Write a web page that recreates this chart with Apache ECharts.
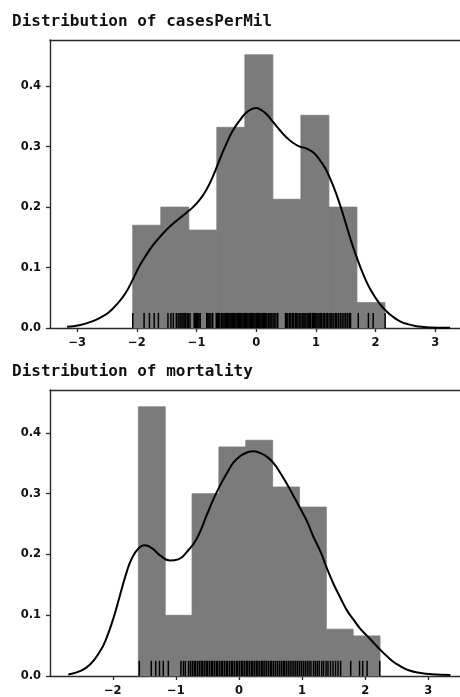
<!DOCTYPE html>
<html>
<head>
<meta charset="utf-8">
<script src="https://cdn.jsdelivr.net/npm/echarts@6/dist/echarts.min.js"></script>
<style>
html,body{margin:0;padding:0;background:#fff;}
#chart{width:460px;height:697px;}
</style>
</head>
<body>
<div id="chart"></div>
<script>
// ---------- Panel 1: casesPerMil ----------
const casesTitle = "Distribution of casesPerMil";
const casesBinStart = -2.07;
const casesBinWidth = 0.4697;
const casesHist = [0.170, 0.200, 0.162, 0.332, 0.452, 0.213, 0.352, 0.200, 0.042];
const casesKdeX = [-3.17, -2.95, -2.75, -2.6, -2.47, -2.33, -2.19, -2.07, -1.96, -1.85, -1.74, -1.62, -1.51, -1.40, -1.29, -1.18, -1.06, -0.95, -0.84, -0.73, -0.62, -0.50, -0.39, -0.28, -0.17, -0.06, 0.0, 0.06, 0.17, 0.28, 0.39, 0.50, 0.62, 0.73, 0.84, 0.95, 1.01, 1.12, 1.18, 1.29, 1.40, 1.51, 1.62, 1.74, 1.85, 1.96, 2.07, 2.19, 2.30, 2.41, 2.55, 2.69, 2.9, 3.25];
const casesKdeY = [0.002, 0.005, 0.011, 0.018, 0.026, 0.040, 0.058, 0.080, 0.102, 0.120, 0.136, 0.150, 0.162, 0.172, 0.181, 0.190, 0.200, 0.212, 0.228, 0.250, 0.277, 0.305, 0.327, 0.343, 0.356, 0.363, 0.364, 0.362, 0.354, 0.341, 0.328, 0.316, 0.306, 0.300, 0.297, 0.291, 0.285, 0.270, 0.260, 0.235, 0.205, 0.170, 0.135, 0.102, 0.076, 0.056, 0.040, 0.027, 0.018, 0.011, 0.006, 0.003, 0.001, 0.0005];
const casesRug = [-2.07, -1.88, -1.79, -1.71, -1.64, -1.48, -1.43, -1.39, -1.34, -1.31, -1.28, -1.26, -1.23, -1.21, -1.19, -1.16, -1.14, -1.11, -1.04, -1.02, -1.00, -0.98, -0.96, -0.94, -0.83, -0.81, -0.79, -0.76, -0.73, -0.67, -0.65, -0.63, -0.61, -0.58, -0.56, -0.54, -0.52, -0.50, -0.48, -0.46, -0.44, -0.42, -0.40, -0.38, -0.36, -0.34, -0.32, -0.30, -0.28, -0.26, -0.24, -0.22, -0.20, -0.18, -0.16, -0.14, -0.12, -0.10, -0.08, -0.06, -0.04, -0.02, 0.00, 0.02, 0.04, 0.06, 0.08, 0.10, 0.12, 0.14, 0.16, 0.18, 0.21, 0.23, 0.25, 0.28, 0.30, 0.33, 0.36, 0.49, 0.51, 0.53, 0.56, 0.58, 0.61, 0.63, 0.66, 0.68, 0.70, 0.73, 0.75, 0.78, 0.80, 0.82, 0.85, 0.87, 0.89, 0.91, 0.94, 0.96, 0.98, 1.00, 1.02, 1.05, 1.07, 1.09, 1.12, 1.14, 1.17, 1.19, 1.22, 1.25, 1.27, 1.30, 1.33, 1.35, 1.38, 1.41, 1.44, 1.47, 1.50, 1.53, 1.56, 1.58, 1.71, 1.88, 1.96, 2.16];
const casesXRange = [-3.457, 3.415];
const casesYMax = 0.4765;

// ---------- Panel 2: mortality ----------
const mortTitle = "Distribution of mortality";
const mortBinStart = -1.595;
const mortBinWidth = 0.4255;
const mortHist = [0.443, 0.100, 0.300, 0.377, 0.388, 0.311, 0.278, 0.077, 0.066];
const mortKdeX = [-2.705, -2.52, -2.36, -2.20, -2.10, -1.99, -1.886, -1.78, -1.70, -1.596, -1.49, -1.38, -1.25, -1.093, -0.962, -0.829, -0.67, -0.51, -0.41, -0.30, -0.19, -0.09, 0.02, 0.12, 0.23, 0.33, 0.44, 0.55, 0.65, 0.76, 0.86, 0.97, 1.08, 1.18, 1.29, 1.39, 1.50, 1.61, 1.71, 1.82, 1.92, 2.03, 2.14, 2.24, 2.35, 2.45, 2.56, 2.70, 2.88, 3.05, 3.35];
const mortKdeY = [0.0026, 0.008, 0.019, 0.041, 0.0625, 0.095, 0.133, 0.171, 0.193, 0.2095, 0.215, 0.2105, 0.1985, 0.190, 0.192, 0.204, 0.226, 0.265, 0.290, 0.3135, 0.334, 0.351, 0.362, 0.3676, 0.370, 0.367, 0.361, 0.350, 0.335, 0.316, 0.297, 0.276, 0.254, 0.229, 0.205, 0.178, 0.151, 0.128, 0.108, 0.092, 0.078, 0.066, 0.054, 0.043, 0.032, 0.023, 0.016, 0.009, 0.005, 0.003, 0.0015];
const mortRug = [-1.58, -1.39, -1.32, -1.26, -1.20, -1.12, -0.92, -0.88, -0.85, -0.80, -0.77, -0.74, -0.71, -0.69, -0.66, -0.63, -0.60, -0.58, -0.55, -0.52, -0.50, -0.47, -0.44, -0.42, -0.39, -0.36, -0.34, -0.31, -0.28, -0.26, -0.23, -0.20, -0.18, -0.15, -0.12, -0.10, -0.07, -0.04, -0.02, 0.01, 0.04, 0.06, 0.09, 0.12, 0.14, 0.17, 0.20, 0.22, 0.25, 0.28, 0.30, 0.33, 0.36, 0.38, 0.41, 0.44, 0.47, 0.50, 0.52, 0.55, 0.58, 0.61, 0.64, 0.67, 0.70, 0.72, 0.75, 0.78, 0.81, 0.84, 0.87, 0.90, 0.93, 0.96, 0.99, 1.02, 1.05, 1.08, 1.11, 1.14, 1.18, 1.21, 1.24, 1.27, 1.31, 1.34, 1.38, 1.41, 1.45, 1.49, 1.53, 1.57, 1.61, 1.77, 1.91, 1.96, 2.03, 2.23];
const mortXRange = [-2.995, 3.502];
const mortYMax = 0.4707;

// ---------- shared ----------
const xTickValues = [-3, -2, -1, 0, 1, 2, 3];
const yTickValues = [0, 0.1, 0.2, 0.3, 0.4];
const rugHeight = 0.025;

const BAR = '#7b7b7b';
const INK = '#111';
const AX = '#2a2a2a';

function histData(start, width, h) {
  return h.map((v, i) => [start + i * width, start + (i + 1) * width, v]);
}
function zip(xs, ys) { return xs.map((x, i) => [x, ys[i]]); }

const chart = echarts.init(document.getElementById('chart'), null, {renderer: 'canvas'});

const grids = [
  {left: 50, top: 40, height: 288, right: 0},
  {left: 50, top: 390, height: 288, right: 0}
];

const labelFont = {fontFamily: 'DejaVu Sans', fontSize: 11.5, fontWeight: 'bold', color: INK};

function xAxisFor(gi, range) {
  return {
    type: 'value', gridIndex: gi, min: range[0], max: range[1], position: 'bottom',
    axisLine: {show: true, onZero: false, lineStyle: {color: AX, width: 1.4}},
    axisTick: {show: true, length: 4, lineStyle: {color: AX, width: 1.3}, customValues: xTickValues},
    axisLabel: Object.assign({
      show: true, customValues: xTickValues, margin: 9,
      formatter: v => String(Math.round(v)).replace('-', '\u2212')
    }, labelFont),
    splitLine: {show: false}
  };
}
function topSpine(gi, range) {
  return {
    type: 'value', gridIndex: gi, min: range[0], max: range[1], position: 'top',
    axisLine: {show: true, onZero: false, lineStyle: {color: AX, width: 1.4}},
    axisTick: {show: false}, axisLabel: {show: false}, splitLine: {show: false}
  };
}
function yAxisFor(gi, max) {
  return {
    type: 'value', gridIndex: gi, min: 0, max: max,
    axisLine: {show: true, onZero: false, lineStyle: {color: AX, width: 1.4}},
    axisTick: {show: true, length: 4, lineStyle: {color: AX, width: 1.3}, customValues: yTickValues},
    axisLabel: Object.assign({
      show: true, customValues: yTickValues, margin: 9,
      formatter: v => v.toFixed(1)
    }, labelFont),
    splitLine: {show: false}
  };
}

function histSeries(xi, yi, data) {
  return {
    type: 'custom', xAxisIndex: xi, yAxisIndex: yi, data: data, z: 2,
    renderItem: function (params, api) {
      const p0 = api.coord([api.value(0), 0]);
      const p1 = api.coord([api.value(1), api.value(2)]);
      return {
        type: 'rect',
        shape: {x: p0[0], y: p1[1], width: p1[0] - p0[0], height: p0[1] - p1[1]},
        style: {fill: BAR, stroke: BAR, lineWidth: 0.8}
      };
    }
  };
}
function rugSeries(xi, yi, vals) {
  return {
    type: 'custom', xAxisIndex: xi, yAxisIndex: yi, data: vals.map(v => [v]), z: 3,
    renderItem: function (params, api) {
      const a = api.coord([api.value(0), 0]);
      const b = api.coord([api.value(0), rugHeight]);
      return {
        type: 'line',
        shape: {x1: a[0], y1: a[1], x2: b[0], y2: b[1]},
        style: {stroke: '#000', lineWidth: 1.5}
      };
    }
  };
}
function kdeSeries(xi, yi, data) {
  return {
    type: 'line', xAxisIndex: xi, yAxisIndex: yi, data: data, smooth: 0.5,
    showSymbol: false, symbol: 'none', z: 4,
    lineStyle: {color: '#000', width: 2}
  };
}

const titleStyle = {fontFamily: 'DejaVu Sans Mono', fontSize: 16, fontWeight: 'bold', color: INK};

const option = {
  animation: false,
  backgroundColor: '#fff',
  title: [
    {text: casesTitle, left: 7, top: 9, textStyle: titleStyle},
    {text: mortTitle, left: 7, top: 359, textStyle: titleStyle}
  ],
  grid: grids,
  xAxis: [
    xAxisFor(0, casesXRange), xAxisFor(1, mortXRange),
    topSpine(0, casesXRange), topSpine(1, mortXRange)
  ],
  yAxis: [yAxisFor(0, casesYMax), yAxisFor(1, mortYMax)],
  series: [
    histSeries(0, 0, histData(casesBinStart, casesBinWidth, casesHist)),
    rugSeries(0, 0, casesRug),
    kdeSeries(0, 0, zip(casesKdeX, casesKdeY)),
    histSeries(1, 1, histData(mortBinStart, mortBinWidth, mortHist)),
    rugSeries(1, 1, mortRug),
    kdeSeries(1, 1, zip(mortKdeX, mortKdeY))
  ]
};
chart.setOption(option);
</script>
</body>
</html>
